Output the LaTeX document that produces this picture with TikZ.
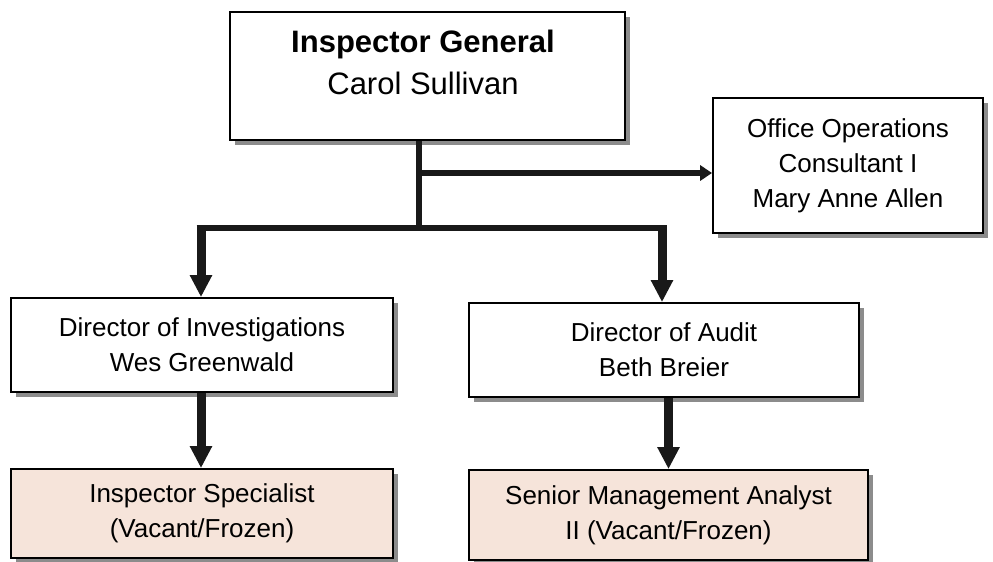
\documentclass[tikz,border=0pt]{standalone}
\usepackage{fontspec}
\setmainfont{Liberation Sans}
\usetikzlibrary{arrows.meta,shadows}
\definecolor{vacant}{HTML}{F6E4DA}
\definecolor{shade}{HTML}{8C8C8C}
\tikzset{
  box/.style={draw=black, line width=1.8pt, fill=white, rectangle, inner sep=0pt,
    drop shadow={shadow xshift=5pt, shadow yshift=-5pt, fill=shade, opacity=1}},
  vbox/.style={box, fill=vacant},
  txt/.style={align=center, inner sep=0pt, font=\fontsize{26}{35}\selectfont},
  conn/.style={line width=5.5pt, draw=black!90},
  arr/.style={conn, -{Triangle[width=15pt,length=12pt]}},
  darr/.style={line width=9pt, draw=black!90, -{Triangle[width=21pt,length=22pt]}},
}
\begin{document}
\begin{tikzpicture}[x=1pt,y=-1pt]
\useasboundingbox (0,0) rectangle (993,562);
% boxes
\node[box, minimum width=395pt, minimum height=128pt] (ig) at (427.5,76) {};
\node[txt, font=\fontsize{31}{42}\selectfont] (igt) at (423,62) {\textbf{Inspector General}\\Carol Sullivan};
\node[box, minimum width=270pt, minimum height=135pt, txt] (off) at (848,165.5) {Office Operations\\Consultant I\\Mary Anne Allen};
\node[box, minimum width=382pt, minimum height=94pt, txt] (di) at (202,345) {Director of Investigations\\Wes Greenwald};
\node[box, minimum width=390pt, minimum height=94pt, txt] (da) at (664,350) {Director of Audit\\Beth Breier};
\node[vbox, minimum width=382pt, minimum height=89pt, txt] (is) at (202,513.5) {Inspector Specialist\\(Vacant/Frozen)};
\node[vbox, minimum width=399pt, minimum height=90pt, txt] (sma) at (668.5,515) {Senior Management Analyst\\II (Vacant/Frozen)};
% connectors
\coordinate (j) at (419,228);
\coordinate (k) at (419,173);
\coordinate (l) at (201,228);
\coordinate (r) at (662,228);
\draw[conn] (ig.south -| j) -- (j);
\draw[arr, line width=6.5pt] (k) -- (k -| off.west);
\draw[conn] ([xshift=-4.5pt]l) -- ([xshift=4.5pt]r);
\draw[darr] ([yshift=-2.75pt]l) -- (l |- di.north);
\draw[darr] ([yshift=-2.75pt]r) -- (r |- da.north);
\draw[darr] (l |- di.south) -- (l |- is.north);
\draw[darr] (sma.north |- da.south) -- (sma.north);
\end{tikzpicture}
\end{document}
